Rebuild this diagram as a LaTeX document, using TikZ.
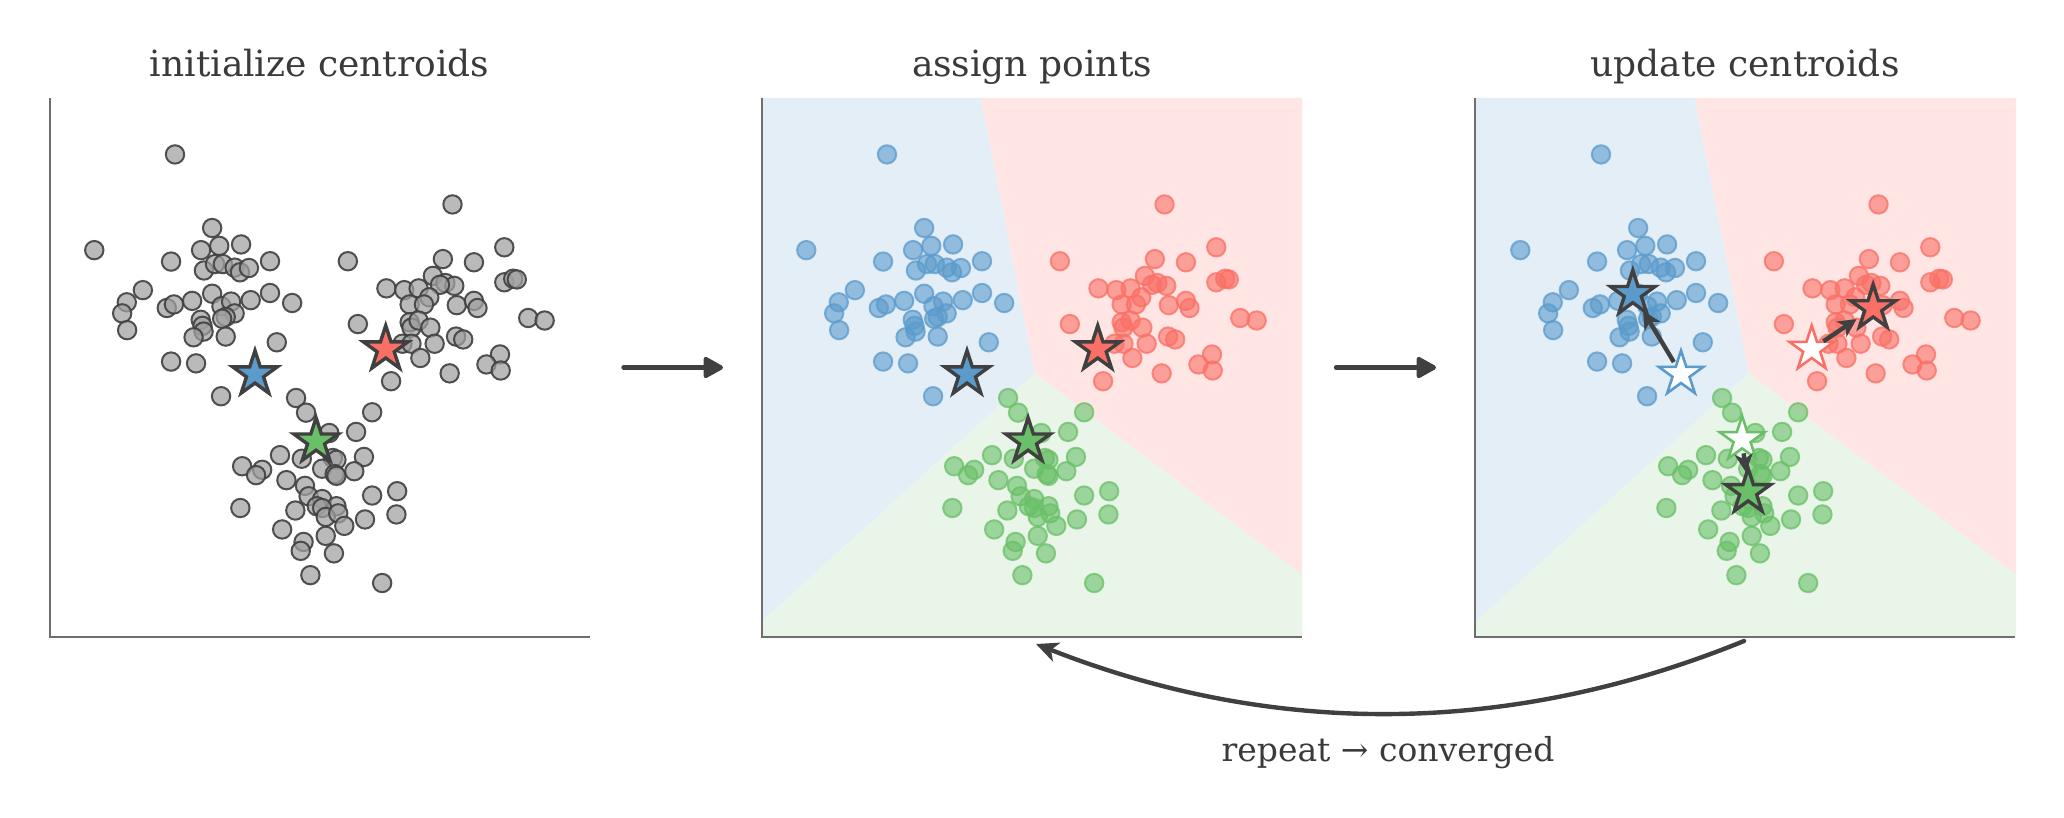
\documentclass[tikz,border=0pt]{standalone}
\usepackage{fontspec}
\setmainfont{DejaVu Serif}
\usetikzlibrary{shapes.geometric,arrows.meta}
\definecolor{cblue}{RGB}{91,155,204}
\definecolor{cred}{RGB}{250,112,102}
\definecolor{cgreen}{RGB}{106,192,104}
\definecolor{bgblue}{RGB}{227,238,247}
\definecolor{bgred}{RGB}{255,230,229}
\definecolor{bggreen}{RGB}{232,245,232}
\definecolor{dark}{RGB}{64,64,64}
\definecolor{axisgray}{RGB}{110,110,110}
\definecolor{txt}{RGB}{58,58,58}
\definecolor{ptgray}{RGB}{160,160,160}
\def\bluepts{378/180, 152/448, 482/386, 451/448, 502/436, 563/432, 367/480, 644/479, 459/505, 490/487, 512/487, 545/497, 560/510, 585/498, 288/560, 243/594, 230/625, 244/672, 355/610, 375/600, 426/590, 482/570, 508/605, 535/592, 545/625, 520/635, 510/640, 590/588, 644/568, 706/596, 450/643, 455/660, 458/676, 430/692, 520/690, 663/706, 367/760, 437/765, 507/857}
\def\redpts{1155/320, 862/479, 1300/440, 1128/473, 1215/482, 970/555, 1020/560, 1060/555, 1100/520, 1135/540, 1160/548, 1120/545, 1090/580, 1035/600, 1075/600, 1167/602, 1215/590, 1225/610, 1300/538, 1325/528, 1335/530, 1367/638, 1413/645, 890/655, 1035/650, 1040/665, 1060/645, 1093/665, 1165/690, 1185/698, 1105/710, 1015/710, 1040/710, 1065/750, 1288/740, 1250/768, 1290/785, 1147/793, 983/815}
\def\greenpts{717/862, 745/903, 930/902, 810/960, 885/957, 672/1022, 733/1032, 820/1030, 830/1035, 907/1027, 566/1053, 622/1063, 605/1078, 790/1060, 825/1075, 830/1080, 880/1067, 690/1092, 742/1108, 752/1137, 930/1135, 1000/1123, 790/1145, 775/1165, 830/1165, 715/1177, 790/1170, 800/1195, 835/1185, 852/1220, 910/1202, 998/1188, 561/1170, 678/1230, 800/1248, 738/1265, 730/1290, 823/1297, 757/1358, 958/1380}
\newcommand\drawpts[2]{\foreach \a/\b in #1 {\path[#2] (\a,\b) circle[radius=4.6pt];}}
\tikzset{
  gpt/.style={fill=ptgray, fill opacity=0.72, draw=dark, draw opacity=0.9, line width=1pt},
  bpt/.style={fill=cblue, fill opacity=0.6, draw=cblue, draw opacity=0.75, line width=1pt},
  rpt/.style={fill=cred, fill opacity=0.6, draw=cred, draw opacity=0.75, line width=1pt},
  ept/.style={fill=cgreen, fill opacity=0.6, draw=cgreen, draw opacity=0.75, line width=1pt},
  cstar/.style={star, star points=5, star point ratio=2.618, minimum size=23.5pt, inner sep=0pt, draw=dark, line width=1.7pt},
  ostar/.style={star, star points=5, star point ratio=2.618, minimum size=23.5pt, inner sep=0pt, fill=white, draw=#1, line width=1.3pt},
  panelbox/.style={minimum width=270pt, minimum height=269.5pt, inner sep=0pt, outer sep=0pt},
  axisline/.style={draw=axisgray, line width=1pt},
  titletext/.style={text=txt, font=\fontsize{18}{22}\selectfont, anchor=base},
  steparrow/.style={draw=dark, line width=2.2pt, line cap=round, -{Triangle[length=11pt,width=11.5pt,round]}},
  movearrow/.style={draw=dark, line width=2.2pt, -{Stealth[length=9pt,width=9pt,inset=2.5pt]}},
  looparrow/.style={draw=dark, line width=2.2pt, line cap=round, -{Stealth[length=11pt,width=10pt,inset=3pt]}},
  pscope/.style={x=0.17857pt, y=-0.17857pt, shift={(-28,-22)}}
}
\begin{document}
\begin{tikzpicture}[x=0.5pt,y=-0.5pt]
\useasboundingbox[fill=white] (0,0) rectangle (2064,818);
% panel frames
\node[panelbox] (p1) at (319.5,367.5) {};
\node[panelbox] (p2) at (1032,367.5) {};
\node[panelbox] (p3) at (1745,367.5) {};
% titles
\node[titletext] (t1) at (319.5,77) {initialize centroids};
\node[titletext] (t2) at (1032,77) {assign points};
\node[titletext] (t3) at (1745,77) {update centroids};
% ---------- panel 1
\begin{scope}[shift={(50,98)}, pscope]
  \drawpts{\bluepts}{gpt}
  \drawpts{\redpts}{gpt}
  \drawpts{\greenpts}{gpt}
  \node[cstar, fill=cblue] (b1) at (602,795) {};
  \node[cstar, fill=cred] (r1) at (968,725) {};
  \node[cstar, fill=cgreen] (g1) at (773,983) {};
\end{scope}
\draw[axisline] (p1.north west) -- (p1.south west) -- (p1.south east);
% ---------- panel 2
\begin{scope}[shift={(762,98)}, pscope]
  \fill[bgblue] (28,22) -- (641,22) -- (792,793) -- (28,1488) -- cycle;
  \fill[bgred] (641,22) -- (1540,22) -- (1540,1358) -- (792,793) -- cycle;
  \fill[bggreen] (792,793) -- (1540,1358) -- (1540,1530) -- (28,1530) -- (28,1488) -- cycle;
  \drawpts{\bluepts}{bpt}
  \drawpts{\redpts}{rpt}
  \drawpts{\greenpts}{ept}
  \node[cstar, fill=cblue] (b2) at (602,795) {};
  \node[cstar, fill=cred] (r2) at (968,725) {};
  \node[cstar, fill=cgreen] (g2) at (773,983) {};
\end{scope}
\draw[axisline] (p2.north west) -- (p2.south west) -- (p2.south east);
% ---------- panel 3
\begin{scope}[shift={(1476,98)}, pscope]
  \fill[bgblue] (28,22) -- (641,22) -- (792,793) -- (28,1488) -- cycle;
  \fill[bgred] (641,22) -- (1540,22) -- (1540,1358) -- (792,793) -- cycle;
  \fill[bggreen] (792,793) -- (1540,1358) -- (1540,1530) -- (28,1530) -- (28,1488) -- cycle;
  \drawpts{\bluepts}{bpt}
  \drawpts{\redpts}{rpt}
  \drawpts{\greenpts}{ept}
  \node[ostar=cblue] (bo) at (602,795) {};
  \node[ostar=cred] (ro) at (968,725) {};
  \node[ostar=cgreen] (go) at (773,978) {};
  \node[cstar, fill=cblue] (bn) at (467,570) {};
  \node[cstar, fill=cred] (rn) at (1140,610) {};
  \node[cstar, fill=cgreen] (gn) at (790,1125) {};
\end{scope}
\draw[movearrow, shorten <=7pt, shorten >=10pt] (bo.center) -- (bn.center);
\draw[movearrow, shorten <=7pt, shorten >=10pt] (ro.center) -- (rn.center);
\draw[movearrow, shorten <=7pt, shorten >=10pt] (go.center) -- (gn.center);
\draw[axisline] (p3.north west) -- (p3.south west) -- (p3.south east);
% ---------- step arrows
\draw[steparrow, shorten <=17pt, shorten >=19.5pt] (p1.east) -- (p2.west);
\draw[steparrow, shorten <=17pt, shorten >=19.5pt] (p2.east) -- (p3.west);
% ---------- loop arrow
\coordinate (ls) at (1744,641);
\coordinate (le) at (1036,644);
\draw[looparrow] (ls) .. controls (1508,737) and (1272,737) .. (le);
\node[text=txt, font=\fontsize{16.5}{20}\selectfont, anchor=base] (lbl) at (1388,761) {repeat → converged};
\end{tikzpicture}
\end{document}
